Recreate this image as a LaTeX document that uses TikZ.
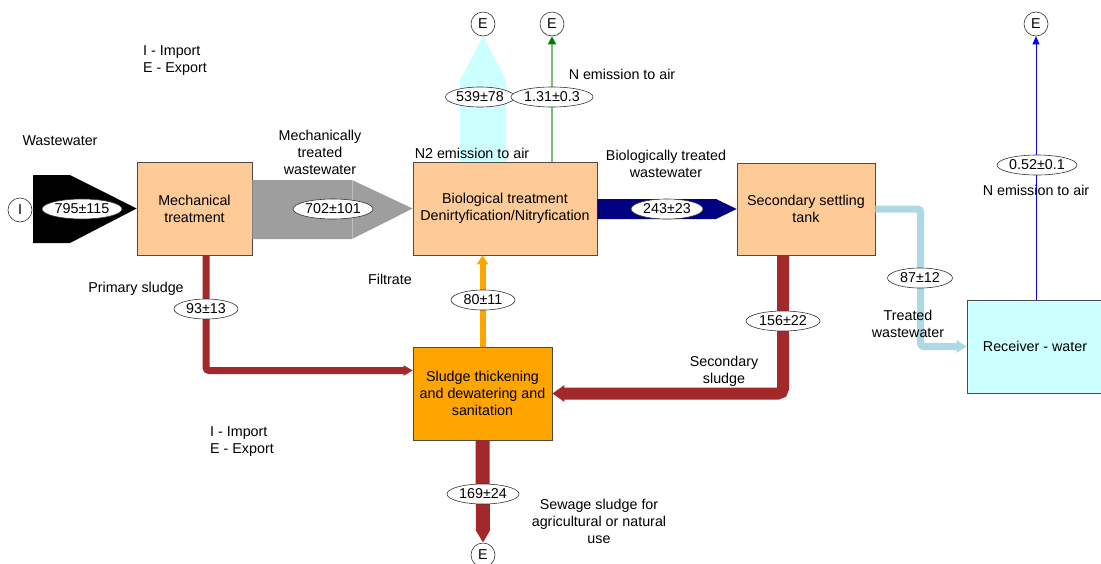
\documentclass[tikz,border=0pt]{standalone}
\usepackage{fontspec}
\setmainfont{Liberation Sans}
\usetikzlibrary{arrows.meta,shapes.geometric,calc}
\definecolor{peach}{RGB}{253,202,152}
\definecolor{sred}{RGB}{163,40,42}
\definecolor{fgray}{RGB}{158,158,158}
\definecolor{dblue}{RGB}{0,0,128}
\definecolor{lcyan}{RGB}{204,255,255}
\definecolor{lblue}{RGB}{173,216,230}
\definecolor{sorange}{RGB}{255,165,0}
\definecolor{lgreen}{RGB}{120,190,120}
\definecolor{dgreen}{RGB}{0,128,0}
\begin{document}
\begin{tikzpicture}[x=1pt,y=-1pt,
  font=\fontsize{14.3}{17}\selectfont,
  box/.style={draw=black!70, line width=0.7pt, fill=peach, align=center, inner sep=0pt},
  val/.style={ellipse, draw=black!80, line width=0.6pt, fill=white, inner sep=0pt, minimum height=20pt},
  term/.style={circle, draw=black!80, line width=0.6pt, fill=white, minimum size=24pt, inner sep=0pt},
  lbl/.style={align=center, inner sep=0pt}]
\useasboundingbox (0,0) rectangle (1101,563);

% process boxes
\node[box, minimum width=115pt, minimum height=93pt] (mech) at (194.5,208.5) {Mechanical\\treatment};
\node[box, minimum width=184pt, minimum height=93pt] (bio) at (505,208.5) {Biological treatment\\Denirtyfication/Nitryfication};
\node[box, minimum width=138pt, minimum height=92pt] (sst) at (806,209) {Secondary settling\\tank};
\node[box, fill=sorange, minimum width=139pt, minimum height=93pt] (sludge) at (482.5,393.5) {Sludge thickening\\and dewatering and\\sanitation};
\node[box, fill=lcyan, minimum width=136pt, minimum height=93pt] (recv) at (1035,346.5) {Receiver - water};

% import / export terminals
\node[term] (iin) at (20,210) {I};
\node[term] (e1) at (483,24) {E};
\node[term] (e2) at (552,24) {E};
\node[term] (e3) at (1036,24) {E};
\node[term] (e4) at (483,555) {E};

% broad arrows
\fill[black] (33,175) -- (70,175) -- (mech.west) -- (70,243) -- (33,243) -- cycle;
\fill[fgray] (mech.east |- 0,180) -- (352,180) -- (bio.west) -- (352,239) -- (mech.east |- 0,239) -- cycle;
\draw[black!25, line width=0.5pt] (352,180) -- (352,239);
\fill[lcyan] (460,0 |- bio.north) -- (460,80) -- (e1.south) -- (506,80) -- (506,0 |- bio.north) -- cycle;
\fill[dblue] (bio.east |- 0,199) -- (716,199) -- (sst.west) -- (716,219) -- (bio.east |- 0,219) -- cycle;

% thin emission arrows
\draw[lgreen, line width=1.5pt, -{Triangle[length=8pt,width=8pt,fill=dgreen,color=dgreen]}] (e2 |- bio.north) -- (e2.south);
\draw[blue, line width=0.8pt, -{Triangle[length=8pt,width=7pt]}] (e3 |- recv.north) -- (e3.south);

% thick flows
\draw[sred, line width=7pt, rounded corners=3pt, -{Triangle[length=9pt,width=10pt]}]
  ($(mech.south)+(11.5,0)$) |- ($(sludge.west)+(0,-23)$);
\draw[sorange, line width=6pt, -{Triangle[length=9pt,width=11pt]}] (sludge.north) -- (sludge.north |- bio.south);
\draw[sred, line width=12pt, rounded corners=5pt, -{Triangle[length=12pt,width=16pt]}]
  ($(sst.south)+(-23,0)$) |- (sludge.east);
\draw[sred, line width=14pt, -{Triangle[length=13pt,width=14pt]}] (sludge.south) -- (e4.north);
\draw[lblue, line width=7pt, rounded corners=3pt, -{Triangle[length=10pt,width=12pt]}]
  (sst.east) -| ($(recv.west)+(-46,0)$) -- (recv.west);

% flow values
\node[val, minimum width=80pt] (v1) at (82,209) {795±115};
\node[val, minimum width=80pt] (v2) at (333,209) {702±101};
\node[val, minimum width=69pt] (v3) at (480,97) {539±78};
\node[val, minimum width=82pt] (v4) at (552,97) {1.31±0.3};
\node[val, minimum width=72pt] (v5) at (667,209) {243±23};
\node[val, minimum width=74pt] (v6) at (783,321) {156±22};
\node[val, minimum width=65pt] (v7) at (920,278) {87±12};
\node[val, minimum width=80pt] (v8) at (1037,165) {0.52±0.1};
\node[val, minimum width=64pt] (v9) at (483,300) {80±11};
\node[val, minimum width=64pt] (v10) at (206,309) {93±13};
\node[val, minimum width=72pt] (v11) at (483,494) {169±24};

% labels
\node[lbl] (l1) at (60,141) {Wastewater};
\node[lbl] (l2) at (320,152) {Mechanically\\treated\\wastewater};
\node[lbl] (l3) at (472,153) {N2 emission to air};
\node[lbl] (l4) at (622,74) {N emission to air};
\node[lbl] (l5) at (666,164) {Biologically treated\\wastewater};
\node[lbl] (l6) at (136,289) {Primary sludge};
\node[lbl] (l7) at (390,279) {Filtrate};
\node[lbl] (l8) at (724,371) {Secondary\\sludge};
\node[lbl] (l9) at (908,324) {Treated\\wastewater};
\node[lbl] (l10) at (1036,190) {N emission to air};
\node[lbl] (l11) at (599,521) {Sewage sludge for\\agricultural or natural\\use};
\node[lbl, align=left, anchor=west] (l12) at (143,61) {I - Import\\E - Export};
\node[lbl, align=left, anchor=west] (l13) at (210,442) {I - Import\\E - Export};
\end{tikzpicture}
\end{document}
